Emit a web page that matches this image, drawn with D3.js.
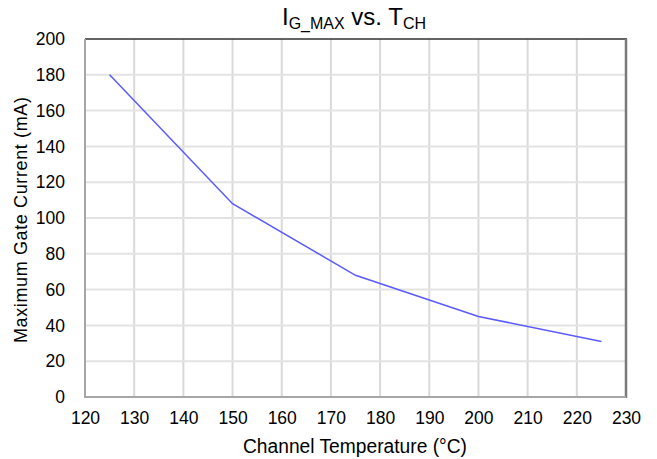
<!DOCTYPE html>
<html>
<head>
<meta charset="utf-8">
<script src="https://cdn.jsdelivr.net/npm/d3@7/dist/d3.min.js"></script>
<style>
  html, body { margin: 0; padding: 0; background: #fff; }
  svg { display: block; }
  text { font-family: "Liberation Sans", Arial, sans-serif; fill: #000; }
</style>
</head>
<body>
<svg id="chart" width="657" height="459"></svg>
<script>
// Channel temperature (°C) and maximum gate current (mA)
const temperature = [125, 150, 175, 200, 225];
const gateCurrent = [180, 108, 68, 45, 31];
const xTicks = [120, 130, 140, 150, 160, 170, 180, 190, 200, 210, 220, 230];
const yTicks = [0, 20, 40, 60, 80, 100, 120, 140, 160, 180, 200];

const svg = d3.select("#chart");
const margin = { left: 85, right: 31, top: 39, bottom: 62 };
const W = 657, H = 459;

const x = d3.scaleLinear().domain([120, 230]).range([margin.left, W - margin.right]);
const y = d3.scaleLinear().domain([0, 200]).range([H - margin.bottom, margin.top]);

// grid
const grid = svg.append("g");
grid.selectAll("line.v").data(xTicks.slice(1, -1)).join("line")
  .attr("x1", d => x(d)).attr("x2", d => x(d))
  .attr("y1", y(200)).attr("y2", y(0))
  .attr("stroke", "#d9d9d9").attr("stroke-width", 2);
grid.selectAll("line.h").data(yTicks.slice(1, -1)).join("line")
  .attr("x1", x(120)).attr("x2", x(230))
  .attr("y1", d => y(d)).attr("y2", d => y(d))
  .attr("stroke", "#e3e3e3").attr("stroke-width", 2);

// frame
svg.append("line").attr("x1", x(120)).attr("x2", x(230) + 1).attr("y1", y(200)).attr("y2", y(200))
  .attr("stroke", "#303030").attr("stroke-width", 1.5);
svg.append("line").attr("x1", x(230)).attr("x2", x(230)).attr("y1", y(200)).attr("y2", y(0) + 1)
  .attr("stroke", "#7a7a7a").attr("stroke-width", 2.5);
svg.append("line").attr("x1", x(120)).attr("x2", x(120)).attr("y1", y(200)).attr("y2", y(0) + 1)
  .attr("stroke", "#a6a6a6").attr("stroke-width", 2);
svg.append("line").attr("x1", x(120) - 1).attr("x2", x(230)).attr("y1", y(0)).attr("y2", y(0))
  .attr("stroke", "#a6a6a6").attr("stroke-width", 2);

// curve
const pts = temperature.map((t, i) => [t, gateCurrent[i]]);
svg.append("path")
  .attr("d", d3.line().x(d => x(d[0])).y(d => y(d[1]))(pts))
  .attr("fill", "none").attr("stroke", "#5a5aff").attr("stroke-width", 1.5);

// axes
const xAxis = d3.axisBottom(x).tickValues(xTicks).tickSize(0).tickPadding(15);
const gx = svg.append("g").attr("transform", `translate(0,${y(0)})`).call(xAxis);
gx.select(".domain").remove();
gx.selectAll("text").style("font-size", "17.5px").attr("dy", "0.71em");

const yAxis = d3.axisLeft(y).tickValues(yTicks).tickSize(0).tickPadding(20);
const gy = svg.append("g").attr("transform", `translate(${x(120)},0)`).call(yAxis);
gy.select(".domain").remove();
gy.selectAll("text").style("font-size", "17.5px");

// axis titles
svg.append("text").attr("x", 355).attr("y", 453)
  .attr("text-anchor", "middle").style("font-size", "20px")
  .attr("textLength", 224).attr("lengthAdjust", "spacingAndGlyphs")
  .text("Channel Temperature (°C)");
svg.append("text").attr("transform", `translate(27,220) rotate(-90)`)
  .attr("text-anchor", "middle").style("font-size", "18px")
  .attr("textLength", 246).attr("lengthAdjust", "spacing")
  .text("Maximum Gate Current (mA)");

// title with subscripts
const title = svg.append("text").attr("x", 354).attr("y", 25)
  .attr("text-anchor", "middle").style("font-size", "24px");
title.append("tspan").text("I");
title.append("tspan").attr("dy", 4).style("font-size", "16px").text("G_MAX");
title.append("tspan").attr("dy", -4).text(" vs. T");
title.append("tspan").attr("dy", 4).style("font-size", "16px").text("CH");
</script>
</body>
</html>
